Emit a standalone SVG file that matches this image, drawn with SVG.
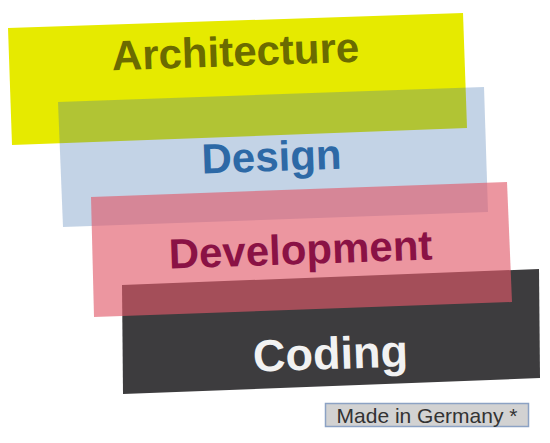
<svg xmlns="http://www.w3.org/2000/svg" width="550" height="443" viewBox="0 0 550 443">
  <style>
    .lbl { font-family: "Liberation Sans", Arial, sans-serif; font-weight: bold; text-anchor: middle; }
  </style>
  <rect width="550" height="443" fill="#ffffff"/>
  <g id="architecture">
    <polygon points="8,28 463,13 467,128 12,145" fill="#e6ea00"/>
  </g>
  <g id="design">
    <polygon points="58,102 484,87 488,212 63,227" fill="#376cad" fill-opacity="0.3"/>
  </g>
  <g id="coding">
    <polygon points="122,285 539,269 540,378 123,394" fill="#3d3c3e"/>
  </g>
  <g id="development">
    <polygon points="91,197 507,182 512,302 94,317" fill="#e15868" fill-opacity="0.63"/>
  </g>
  <g id="labels">
    <text class="lbl" x="236" y="66" font-size="42" fill="#6b6b00" transform="rotate(-2 236 66)">Architecture</text>
    <text class="lbl" x="272" y="171" font-size="42" fill="#2d69a6" transform="rotate(-2 272 171)">Design</text>
    <text class="lbl" x="301" y="264" font-size="42" fill="#8a1245" transform="rotate(-2 301 264)">Development</text>
    <text class="lbl" x="331" y="369" font-size="45" fill="#f2f2f2" transform="rotate(-2 331 369)">Coding</text>
  </g>
  <g id="made-in-germany">
    <rect x="325.5" y="403.5" width="203" height="23" fill="#d2d2d2" stroke="#8ca2c4" stroke-width="1.5"/>
    <text x="427" y="422.5" font-family="Liberation Sans, Arial, sans-serif" font-size="21" fill="#333333" text-anchor="middle">Made in Germany *</text>
  </g>
</svg>
